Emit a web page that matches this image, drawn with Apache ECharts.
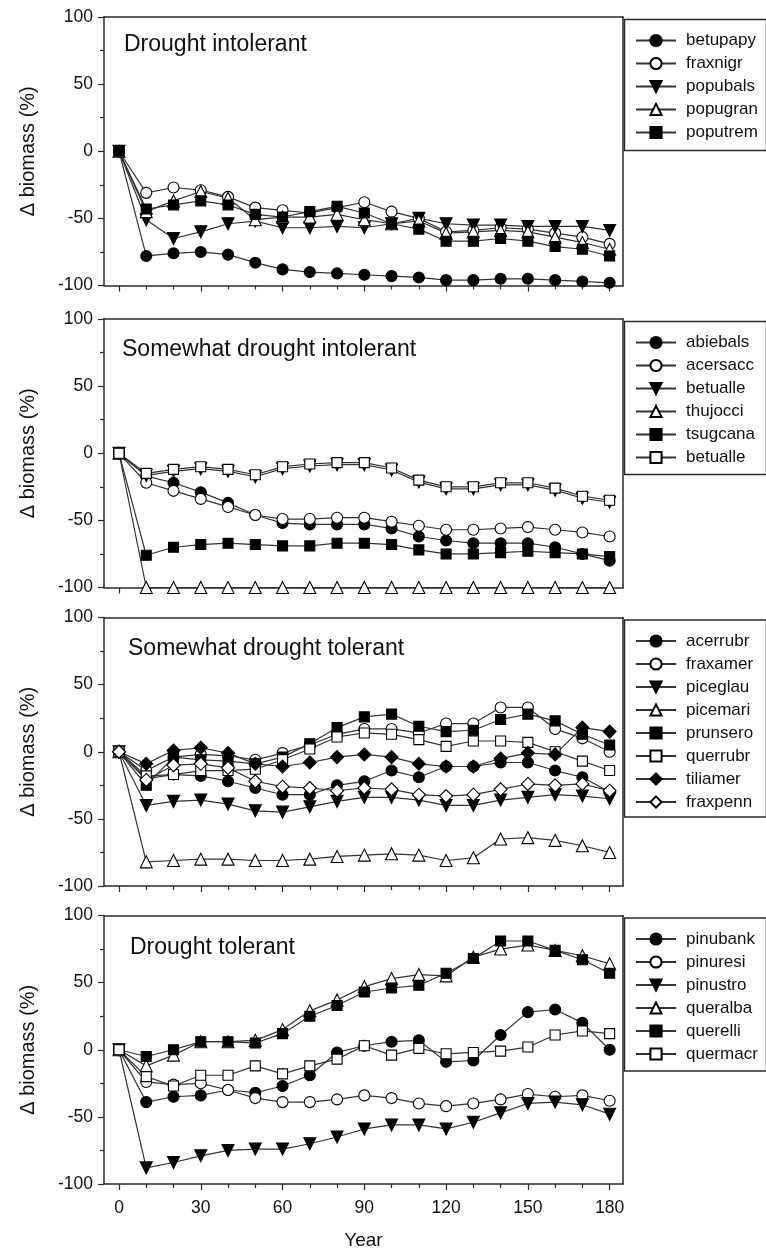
<!DOCTYPE html>
<html>
<head>
<meta charset="utf-8">
<script src="https://cdn.jsdelivr.net/npm/echarts@6/dist/echarts.min.js"></script>
<style>
html,body{margin:0;padding:0;background:#fff;}
#c{width:766px;height:1251px;}
</style>
</head>
<body>
<div id="c"></div>
<script>
// ---------- data ----------
const years = [0,10,20,30,40,50,60,70,80,90,100,110,120,130,140,150,160,170,180];
const majorTicks = [0,30,60,90,120,150,180];
const minorTicksX = [10,20,40,50,70,80,100,110,130,140,160,170];

const panelTitles = ['Drought intolerant','Somewhat drought intolerant','Somewhat drought tolerant','Drought tolerant'];

// Panel 1 – Drought intolerant
const betupapy = [0,-78,-76,-75,-77,-83,-88,-90,-91,-92,-93,-94,-96,-96,-95,-95,-96,-97,-98];
const fraxnigr = [0,-31,-27,-29,-34,-42,-44,-46,-42,-38,-45,-50,-60,-59,-57,-58,-61,-64,-69];
const popubals = [0,-51,-65,-60,-54,-52,-57,-57,-56,-57,-54,-50,-54,-55,-55,-56,-56,-56,-59];
const popugran = [0,-45,-37,-30,-35,-51,-49,-49,-47,-51,-54,-52,-61,-60,-59,-60,-64,-68,-73];
const poputrem = [0,-43,-40,-37,-40,-47,-49,-45,-41,-46,-54,-58,-67,-67,-65,-67,-71,-73,-78];

// Panel 2 – Somewhat drought intolerant
const abiebals = [0,-17,-22,-29,-37,-46,-52,-53,-53,-53,-56,-62,-65,-67,-67,-67,-70,-75,-80];
const acersacc = [0,-22,-28,-34,-40,-46,-49,-49,-48,-48,-51,-54,-57,-57,-56,-55,-57,-59,-62];
const betualleA = [0,-16.5,-13.5,-11.5,-13.5,-17.5,-11.5,-9.5,-8.5,-8.5,-12.5,-21.5,-26.5,-26.5,-23.5,-23.5,-27.5,-33.5,-36.5];
const thujocci = [0,-100,-100,-100,-100,-100,-100,-100,-100,-100,-100,-100,-100,-100,-100,-100,-100,-100,-100];
const tsugcana = [0,-76,-70,-68,-67,-68,-69,-69,-67,-67,-68,-72,-75,-75,-74,-73,-74,-75,-77];
const betualleB = [0,-15,-12,-10,-12,-16,-10,-8,-7,-7,-11,-20,-25,-25,-22,-22,-26,-32,-35];

// Panel 3 – Somewhat drought tolerant
const acerrubr = [0,-20,-17,-18,-22,-27,-32,-32,-25,-22,-14,-19,-11,-11,-8,-8,-14,-19,-30];
const fraxamer = [0,-14,-4,-2,-3,-6,-1,5,13,17,17,14,21,21,33,33,17,10,0];
const piceglau = [0,-40,-37,-36,-39,-44,-45,-41,-37,-34,-34,-36,-40,-40,-36,-34,-32,-33,-35];
const picemari = [0,-82,-81,-80,-80,-81,-81,-80,-78,-77,-76,-77,-81,-79,-65,-64,-66,-70,-75];
const prunsero = [0,-25,-4,-6,-7,-9,-4,6,18,26,28,19,15,16,24,28,23,13,5];
const querrubr = [0,-18,-17,-14,-14,-13,-6,2,11,14,13,9,4,8,8,7,0,-7,-14];
const tiliamer = [0,-9,1,3,-1,-9,-11,-8,-4,-2,-4,-9,-11,-11,-5,-1,-2,18,15];
const fraxpenn = [0,-21,-10,-9,-12,-22,-26,-27,-29,-27,-28,-32,-33,-32,-28,-24,-25,-24,-29];

// Panel 4 – Drought tolerant
const pinubank = [0,-39,-35,-34,-30,-32,-27,-19,-2,3,6,7,-9,-8,11,28,30,20,0];
const pinuresi = [0,-24,-26,-25,-30,-36,-39,-39,-37,-34,-36,-40,-42,-40,-37,-33,-35,-34,-38];
const pinustro = [0,-88,-84,-79,-75,-74,-74,-70,-65,-59,-56,-56,-59,-54,-47,-40,-39,-41,-48];
const queralba = [0,-12,-4,6,6,7,15,29,37,47,53,56,55,69,75,78,74,70,64];
const querelli = [0,-5,0,6,6,5,12,25,33,43,46,48,57,68,81,81,74,67,57];
const quermacr = [0,-20,-27,-19,-19,-12,-18,-12,-7,3,-4,1,-3,-2,-1,2,11,14,12];

// series definitions: [legend name, values, marker]
const panels = [
  [['betupapy',betupapy,'fc'],['fraxnigr',fraxnigr,'oc'],['popubals',popubals,'dt'],['popugran',popugran,'ot'],['poputrem',poputrem,'fs']],
  [['abiebals',abiebals,'fc'],['acersacc',acersacc,'oc'],['betualle',betualleA,'dt'],['thujocci',thujocci,'ot'],['tsugcana',tsugcana,'fs'],['betualle#2',betualleB,'os']],
  [['acerrubr',acerrubr,'fc'],['fraxamer',fraxamer,'oc'],['piceglau',piceglau,'dt'],['picemari',picemari,'ot'],['prunsero',prunsero,'fs'],['querrubr',querrubr,'os'],['tiliamer',tiliamer,'fd'],['fraxpenn',fraxpenn,'od']],
  [['pinubank',pinubank,'fc'],['pinuresi',pinuresi,'oc'],['pinustro',pinustro,'dt'],['queralba',queralba,'ot'],['querelli',querelli,'fs'],['quermacr',quermacr,'os']]
];

// ---------- styles / layout ----------
const FONT = 'Liberation Sans, Arial, sans-serif';
const INK = '#111';
const AX = '#2a2a2a';
const markers = {
  fc:{symbol:'circle',size:11,fill:'#000'},
  oc:{symbol:'circle',size:11,fill:'#fff'},
  dt:{symbol:'triangle',size:12,fill:'#000',rotate:180},
  ot:{symbol:'triangle',size:12,fill:'#fff'},
  fs:{symbol:'rect',size:10,fill:'#000'},
  os:{symbol:'rect',size:10,fill:'#fff'},
  fd:{symbol:'diamond',size:13,fill:'#000'},
  od:{symbol:'diamond',size:13,fill:'#fff'}
};
const tops = [17, 319, 617.5, 915.5];
const H = 268.5;
const titleTops = [33, 338, 637, 936];
const titleLefts = [124, 122, 128, 130];

const grid = [], xAxis = [], yAxis = [], series = [], legend = [], title = [], graphic = [];
panels.forEach((ser, p) => {
  const last = p === panels.length - 1;
  grid.push({left:104, width:519, top:tops[p], height:H, show:false});
  xAxis.push({
    type:'value', gridIndex:p, min:-5.5, max:184.9, position:'bottom',
    axisLine:{show:true, onZero:false, lineStyle:{color:AX, width:1.5}},
    axisTick:{show:true, customValues:majorTicks, length:6, inside:false, lineStyle:{color:AX, width:1.2}},
    axisLabel:{show:last, customValues:majorTicks, fontSize:17.5, color:INK, fontFamily:FONT, margin:15},
    splitLine:{show:false},
    name: last ? 'Year' : '', nameLocation:'middle', nameGap:47,
    nameTextStyle:{fontSize:19, color:INK, fontFamily:FONT}
  });
  xAxis.push({
    type:'value', gridIndex:p, min:-5.5, max:184.9, position:'bottom',
    axisLine:{show:false, onZero:false},
    axisTick:{show:true, customValues:minorTicksX, length:4, inside:false, lineStyle:{color:AX, width:1.2}},
    axisLabel:{show:false}, splitLine:{show:false}
  });
  xAxis.push({
    type:'value', gridIndex:p, min:-5.5, max:184.9, position:'top',
    axisLine:{show:true, onZero:false, lineStyle:{color:AX, width:1.5}},
    axisTick:{show:false}, axisLabel:{show:false}, splitLine:{show:false}
  });
  yAxis.push({
    type:'value', gridIndex:p, min:-100, max:100, interval:50, position:'left',
    axisLine:{show:true, onZero:false, lineStyle:{color:AX, width:1.5}},
    axisTick:{show:true, length:6, inside:false, lineStyle:{color:AX, width:1.2}},
    minorTick:{show:true, splitNumber:2, length:4, lineStyle:{color:AX, width:1.2}},
    axisLabel:{fontSize:17.5, color:INK, fontFamily:FONT, margin:11},
    splitLine:{show:false},
    name:'\u0394 biomass (%)', nameLocation:'middle', nameGap:66,
    nameTextStyle:{fontSize:20, color:INK, fontFamily:FONT}
  });
  yAxis.push({
    type:'value', gridIndex:p, min:-100, max:100, position:'right',
    axisLine:{show:true, onZero:false, lineStyle:{color:AX, width:1.5}},
    axisTick:{show:false}, axisLabel:{show:false}, splitLine:{show:false}
  });
  ser.forEach(([name, vals, mk]) => {
    const m = markers[mk];
    series.push({
      type:'line', name, xAxisIndex:p*3, yAxisIndex:p*2,
      data: years.map((x,i) => [x, vals[i]]),
      symbol:m.symbol, symbolSize:m.size, symbolRotate:m.rotate || 0,
      showAllSymbol:true,
      lineStyle:{color:'#333', width:1.2},
      itemStyle:{color:m.fill, borderColor:'#000', borderWidth:1.1},
      emphasis:{disabled:true}, animation:false
    });
  });
  legend.push({
    data: ser.map(s => s[0]), orient:'vertical', left:635, top:tops[p] + 15,
    itemWidth:40, itemHeight:14, itemGap:6, padding:0, selectedMode:false,
    formatter: n => n.split('#')[0],
    textStyle:{fontSize:17, lineHeight:16, color:INK, fontFamily:FONT, padding:[0,0,0,5]}
  });
  title.push({
    text: panelTitles[p], left:titleLefts[p], top:titleTops[p], padding:0,
    textStyle:{fontSize:23, fontWeight:'normal', color:INK, fontFamily:FONT}
  });
  graphic.push({
    type:'rect', left:622, top:tops[p],
    shape:{width:142, height:43 + 22 * (ser.length - 1)},
    style:{fill:'none', stroke:AX, lineWidth:1.5}, silent:true
  });
});

const chart = echarts.init(document.getElementById('c'), null, {renderer:'canvas'});
chart.setOption({
  backgroundColor:'#fff', animation:false,
  title, grid, xAxis, yAxis, series, legend, graphic
});
</script>
</body>
</html>
